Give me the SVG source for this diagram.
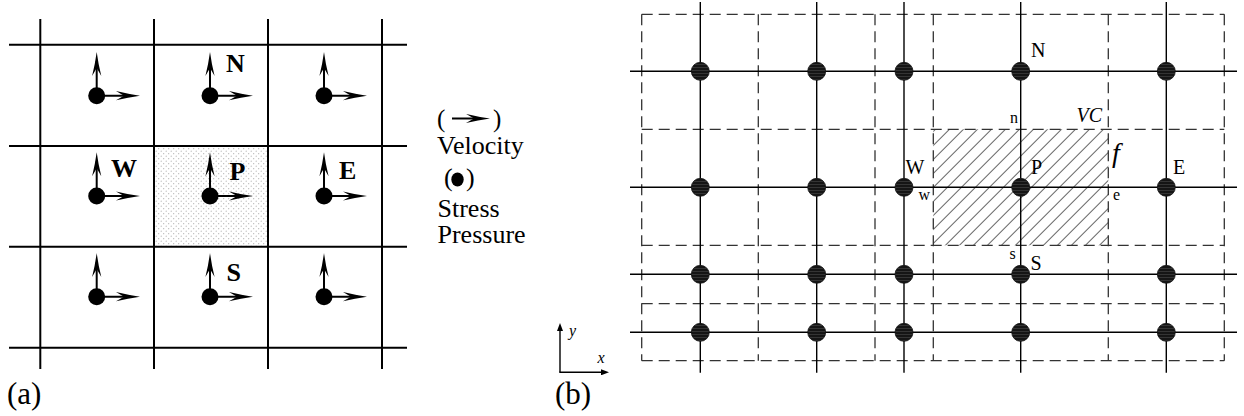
<svg xmlns="http://www.w3.org/2000/svg" width="1244" height="416" viewBox="0 0 1244 416">
<style>
.g{stroke:#000;stroke-width:2;fill:none}
.s{stroke:#000;stroke-width:1.4;fill:none}
.d{stroke:#333;stroke-width:1.3;fill:none;stroke-dasharray:11 6}
.ar{stroke:#000;stroke-width:2;fill:none;marker-end:url(#ah)}
.dot{fill:#000}
.bd{fill:url(#dh);stroke:#111;stroke-width:0.8}
.bl{font-family:"Liberation Serif","Times New Roman",serif;font-weight:bold;font-size:26px;fill:#000}
.t{font-family:"Liberation Serif","Times New Roman",serif;font-size:26px;fill:#000}
.L{font-family:"Liberation Serif","Times New Roman",serif;font-size:20px;fill:#000}
.sm{font-family:"Liberation Serif","Times New Roman",serif;font-size:16px;fill:#000}
.it{font-style:italic}
</style>
<defs>
<marker id="ah" viewBox="0 0 24 10" refX="15" refY="5" markerWidth="24" markerHeight="10" markerUnits="userSpaceOnUse" orient="auto">
<path d="M24,5 Q12,3.4 0,0.4 L8,5 L0,9.6 Q12,6.6 24,5 Z" fill="#000"/>
</marker>
<marker id="ax" viewBox="0 0 8 6" refX="2" refY="3" markerWidth="8" markerHeight="6" markerUnits="userSpaceOnUse" orient="auto">
<path d="M0,0 L8,3 L0,6 Z" fill="#000"/>
</marker>
<pattern id="stip" width="5" height="5" patternUnits="userSpaceOnUse">
<circle cx="1.2" cy="1.2" r="0.6" fill="#b0b0b0"/>
<circle cx="3.7" cy="3.7" r="0.6" fill="#b0b0b0"/>
</pattern>
<pattern id="hat" width="9.9" height="10" patternUnits="userSpaceOnUse" patternTransform="rotate(45)">
<line x1="0" y1="0" x2="0" y2="10" stroke="#000" stroke-width="1.2"/>
</pattern>
<pattern id="dh" width="4" height="3" patternUnits="userSpaceOnUse">
<rect width="4" height="3" fill="#151515"/>
<line x1="0" y1="1.5" x2="4" y2="1.5" stroke="#4a4a4a" stroke-width="0.6"/>
</pattern>
</defs>

<!-- Panel (a) -->
<g id="a-cellP-fill">
<rect x="154" y="146" width="114" height="100.7" fill="url(#stip)"/>
</g>
<g id="a-grid">
<line class="g" x1="40.3" y1="19" x2="40.3" y2="369"/>
<line class="g" x1="154" y1="19" x2="154" y2="369"/>
<line class="g" x1="268" y1="19" x2="268" y2="369"/>
<line class="g" x1="382" y1="19" x2="382" y2="369"/>
<line class="g" x1="9" y1="44.7" x2="407" y2="44.7"/>
<line class="g" x1="9" y1="146" x2="407" y2="146"/>
<line class="g" x1="9" y1="246.7" x2="407" y2="246.7"/>
<line class="g" x1="9" y1="347.7" x2="407" y2="347.7"/>
</g>
<g id="a-connectors">
<line class="ar" x1="96.7" y1="95.7" x2="96.7" y2="61"/>
<line class="ar" x1="96.7" y1="95.7" x2="131" y2="95.7"/>
<line class="ar" x1="210" y1="95.7" x2="210" y2="61"/>
<line class="ar" x1="210" y1="95.7" x2="244" y2="95.7"/>
<line class="ar" x1="324" y1="95.7" x2="324" y2="61"/>
<line class="ar" x1="324" y1="95.7" x2="358" y2="95.7"/>
<line class="ar" x1="96.7" y1="196" x2="96.7" y2="161.3"/>
<line class="ar" x1="96.7" y1="196" x2="131" y2="196"/>
<line class="ar" x1="210" y1="196" x2="210" y2="161.3"/>
<line class="ar" x1="210" y1="196" x2="244" y2="196"/>
<line class="ar" x1="324" y1="196" x2="324" y2="161.3"/>
<line class="ar" x1="324" y1="196" x2="358" y2="196"/>
<line class="ar" x1="96.7" y1="296.7" x2="96.7" y2="262"/>
<line class="ar" x1="96.7" y1="296.7" x2="131" y2="296.7"/>
<line class="ar" x1="210" y1="296.7" x2="210" y2="262"/>
<line class="ar" x1="210" y1="296.7" x2="244" y2="296.7"/>
<line class="ar" x1="324" y1="296.7" x2="324" y2="262"/>
<line class="ar" x1="324" y1="296.7" x2="358" y2="296.7"/>
</g>
<g id="a-NW"><circle class="dot" cx="96.7" cy="95.7" r="8.5"/></g>
<g id="a-N"><circle class="dot" cx="210" cy="95.7" r="8.5"/><text class="bl" x="226" y="72">N</text></g>
<g id="a-NE"><circle class="dot" cx="324" cy="95.7" r="8.5"/></g>
<g id="a-W"><circle class="dot" cx="96.7" cy="196" r="8.5"/><text class="bl" x="111" y="176.5">W</text></g>
<g id="a-P"><circle class="dot" cx="210" cy="196" r="8.5"/><text class="bl" x="229.5" y="179.5">P</text></g>
<g id="a-E"><circle class="dot" cx="324" cy="196" r="8.5"/><text class="bl" x="339" y="179">E</text></g>
<g id="a-SW"><circle class="dot" cx="96.7" cy="296.7" r="8.5"/></g>
<g id="a-S"><circle class="dot" cx="210" cy="296.7" r="8.5"/><text class="bl" x="226.5" y="281">S</text></g>
<g id="a-SE"><circle class="dot" cx="324" cy="296.7" r="8.5"/></g>
<text class="t" x="7" y="403.5" style="font-size:31px">(a)</text>

<!-- Legend -->
<g id="legend">
<text class="t" x="437" y="127" style="font-size:25px">(</text>
<line class="ar" x1="452" y1="118.5" x2="481" y2="118.5"/>
<text class="t" x="493" y="127" style="font-size:25px">)</text>
<text class="t" x="437" y="154">Velocity</text>
<text class="t" x="444" y="186">(</text>
<ellipse cx="457.5" cy="179.5" rx="6.2" ry="7" fill="#000"/>
<text class="t" x="466" y="186">)</text>
<text class="t" x="437.5" y="216.5">Stress</text>
<text class="t" x="437.5" y="243">Pressure</text>
</g>

<!-- Panel (b) -->
<g id="b-VC">
<rect x="933.3" y="129.3" width="175" height="116" fill="url(#hat)"/>
</g>
<g id="b-dashed">
<line class="d" x1="641.7" y1="14.3" x2="1224.3" y2="14.3"/>
<line class="d" x1="641.7" y1="129.3" x2="1224.3" y2="129.3"/>
<line class="d" x1="641.7" y1="245.3" x2="1224.3" y2="245.3"/>
<line class="d" x1="641.7" y1="303.7" x2="1224.3" y2="303.7"/>
<line class="d" x1="641.7" y1="360.7" x2="1224.3" y2="360.7"/>
<line class="d" x1="641.7" y1="14.3" x2="641.7" y2="360.7"/>
<line class="d" x1="758.3" y1="14.3" x2="758.3" y2="360.7"/>
<line class="d" x1="875" y1="14.3" x2="875" y2="360.7"/>
<line class="d" x1="933.3" y1="14.3" x2="933.3" y2="360.7"/>
<line class="d" x1="1108.3" y1="14.3" x2="1108.3" y2="360.7"/>
<line class="d" x1="1224.3" y1="14.3" x2="1224.3" y2="360.7"/>
</g>
<g id="b-grid">
<line class="s" x1="700.3" y1="2" x2="700.3" y2="372.7"/>
<line class="s" x1="816.7" y1="2" x2="816.7" y2="372.7"/>
<line class="s" x1="904" y1="2" x2="904" y2="372.7"/>
<line class="s" x1="1020.7" y1="2" x2="1020.7" y2="372.7"/>
<line class="s" x1="1166.3" y1="2" x2="1166.3" y2="372.7"/>
<line class="s" x1="630" y1="71.3" x2="1237" y2="71.3"/>
<line class="s" x1="630" y1="187.3" x2="1237" y2="187.3"/>
<line class="s" x1="630" y1="274.3" x2="1237" y2="274.3"/>
<line class="s" x1="630" y1="332.3" x2="1237" y2="332.3"/>
</g>
<g id="b-row1">
<circle class="bd" cx="700.3" cy="71.3" r="9"/>
<circle class="bd" cx="816.7" cy="71.3" r="9"/>
<circle class="bd" cx="904" cy="71.3" r="9"/>
<circle class="bd" cx="1166.3" cy="71.3" r="9"/>
</g>
<g id="b-N"><circle class="bd" cx="1020.7" cy="71.3" r="9"/><text class="L" x="1031" y="57">N</text></g>
<g id="b-row2">
<circle class="bd" cx="700.3" cy="187.3" r="9"/>
<circle class="bd" cx="816.7" cy="187.3" r="9"/>
</g>
<g id="b-W"><circle class="bd" cx="904" cy="187.3" r="9"/><text class="L" x="905.5" y="173.5">W</text></g>
<g id="b-P"><circle class="bd" cx="1020.7" cy="187.3" r="9"/><text class="L" x="1031" y="173.5">P</text></g>
<g id="b-E"><circle class="bd" cx="1166.3" cy="187.3" r="9"/><text class="L" x="1173" y="173.5">E</text></g>
<g id="b-row3">
<circle class="bd" cx="700.3" cy="274.3" r="9"/>
<circle class="bd" cx="816.7" cy="274.3" r="9"/>
<circle class="bd" cx="904" cy="274.3" r="9"/>
<circle class="bd" cx="1166.3" cy="274.3" r="9"/>
</g>
<g id="b-S"><circle class="bd" cx="1020.7" cy="274.3" r="9"/><text class="L" x="1030.5" y="269.5">S</text></g>
<g id="b-row4">
<circle class="bd" cx="700.3" cy="332.3" r="9"/>
<circle class="bd" cx="816.7" cy="332.3" r="9"/>
<circle class="bd" cx="904" cy="332.3" r="9"/>
<circle class="bd" cx="1020.7" cy="332.3" r="9"/>
<circle class="bd" cx="1166.3" cy="332.3" r="9"/>
</g>
<g id="b-faces">
<text class="sm" x="1010" y="123">n</text>
<text class="sm" x="1009.5" y="258.5">s</text>
<text class="sm" x="918.5" y="200">w</text>
<text class="sm" x="1113" y="200">e</text>
<text class="L it" x="1076.5" y="121.7">VC</text>
<text class="L it" x="1112" y="162" style="font-size:28px">f</text>
</g>
<g id="b-axes">
<line x1="560" y1="372.3" x2="560" y2="329" stroke="#000" stroke-width="1.4" marker-end="url(#ax)"/>
<line x1="559.3" y1="372.3" x2="603" y2="372.3" stroke="#000" stroke-width="1.4" marker-end="url(#ax)"/>
<text class="sm it" x="569" y="336">y</text>
<text class="sm it" x="597.5" y="363">x</text>
</g>
<text class="t" x="555" y="403.5" style="font-size:31px">(b)</text>
</svg>
